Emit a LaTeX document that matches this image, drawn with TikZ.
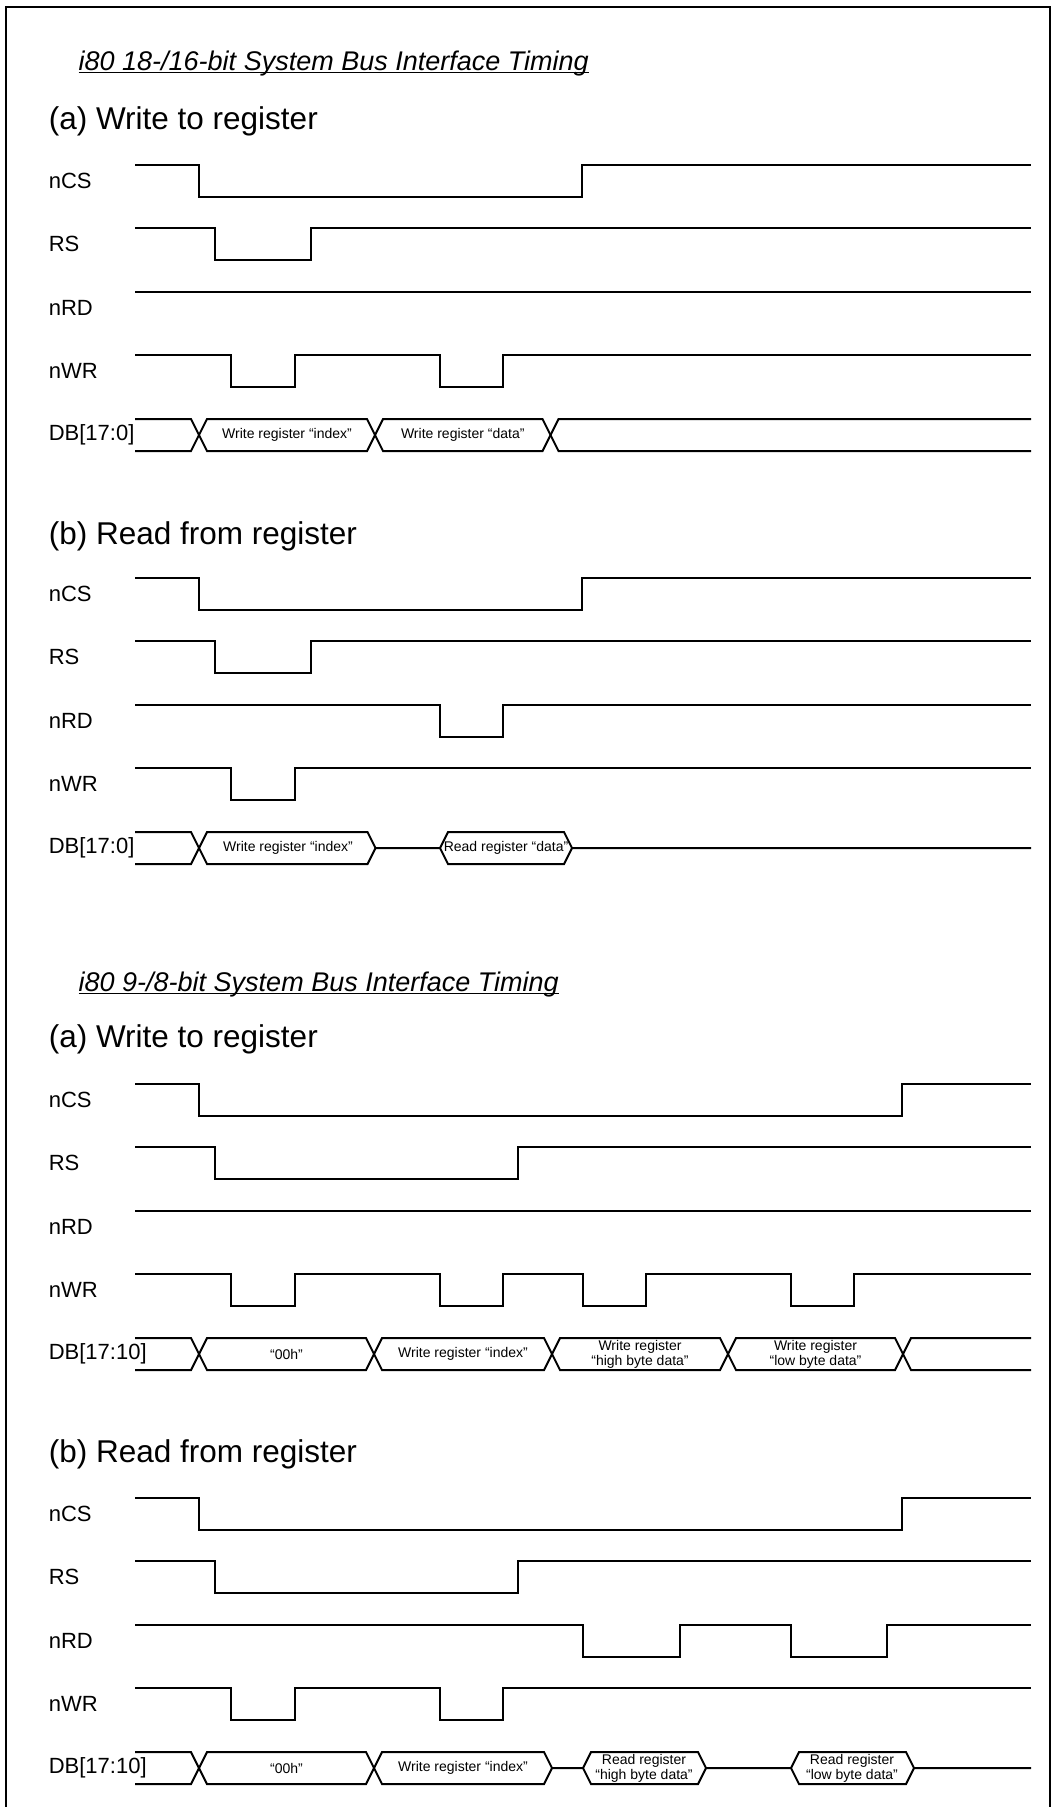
\documentclass[tikz,border=0pt]{standalone}
\usepackage{fontspec}
\setmainfont{Liberation Sans}

\begin{document}
\begin{tikzpicture}[
  x=1pt, y=-1pt,
  sig/.style={line width=2pt},
  bustitle/.style={font=\fontsize{27}{32}\selectfont\itshape, anchor=base west, inner sep=0pt},
  heading/.style={font=\fontsize{31.5}{38}\selectfont, anchor=base west, inner sep=0pt},
  signame/.style={font=\fontsize{22}{26}\selectfont, anchor=west, inner sep=0pt},
  buslabel/.style={font=\fontsize{14}{15}\selectfont, align=center, inner sep=0pt}
]
\useasboundingbox (0,0) rectangle (1052,1807);
\draw[line width=2pt] (6,7) rectangle (1050,1830);

% 18-/16-bit
\node[bustitle] (title1) at (78.5,70) {i80 18-/16-bit System Bus Interface Timing};
\draw[line width=1.5pt] ([yshift=-2.5pt]title1.base west) -- ([yshift=-2.5pt]title1.base east);
\node[heading] (wr1) at (48.6,129) {(a) Write to register};

\begin{scope}[shift={(0,165)}]
\node[signame] (csA) at (48.6,16) {nCS};
\node[signame] (rsA) at (48.6,79) {RS};
\node[signame] (rdA) at (48.6,143) {nRD};
\node[signame] (wrA) at (48.6,206) {nWR};
\node[signame] (dbA) at (48.6,270) {DB[17:0]};
\draw[sig] (135,0) -| (199,32) -| (582,0) -- (1031,0);
\draw[sig] (135,63) -| (215,95) -| (311,63) -- (1031,63);
\draw[sig] (135,127) -- (1031,127);
\draw[sig] (135,190) -| (231,222) -| (295,190) -| (440,222) -| (503,190) -- (1031,190);
\draw[sig] (135,254) -- (191,254) -- (207,286) -- (367,286) -- (383,254) -- (542.5,254) -- (558.5,286) -- (1031,286);
\draw[sig] (135,286) -- (191,286) -- (207,254) -- (367,254) -- (383,286) -- (542.5,286) -- (558.5,254) -- (1031,254);
\node[buslabel] (idxA) at (287,270) {Write register “index”};
\node[buslabel] (datA) at (462.75,270) {Write register “data”};
\end{scope}

\node[heading] (rd1) at (48.6,544) {(b) Read from register};

\begin{scope}[shift={(0,578)}]
\node[signame] (csB) at (48.6,16) {nCS};
\node[signame] (rsB) at (48.6,79) {RS};
\node[signame] (rdB) at (48.6,143) {nRD};
\node[signame] (wrB) at (48.6,206) {nWR};
\node[signame] (dbB) at (48.6,270) {DB[17:0]};
\draw[sig] (135,0) -| (199,32) -| (582,0) -- (1031,0);
\draw[sig] (135,63) -| (215,95) -| (311,63) -- (1031,63);
\draw[sig] (135,127) -| (440,159) -| (503,127) -- (1031,127);
\draw[sig] (135,190) -| (231,222) -| (295,190) -- (1031,190);
\draw[sig] (135,254) -- (191,254) -- (207,286) -- (367.5,286) -- (375.5,270) -- (440,270) -- (448,254) -- (564,254) -- (572,270) -- (1031,270);
\draw[sig] (135,286) -- (191,286) -- (207,254) -- (367.5,254) -- (375.5,270);
\draw[sig] (440,270) -- (448,286) -- (564,286) -- (572,270);
\node[buslabel] (idxB) at (288,270) {Write register “index”};
\node[buslabel] (datB) at (506,270) {Read register “data”};
\end{scope}

% 9-/8-bit
\node[bustitle] (title2) at (78.5,991) {i80 9-/8-bit System Bus Interface Timing};
\draw[line width=1.5pt] ([yshift=-2.5pt]title2.base west) -- ([yshift=-2.5pt]title2.base east);
\node[heading] (wr2) at (48.6,1047) {(a) Write to register};

\begin{scope}[shift={(0,1084)}]
\node[signame] (csC) at (48.6,16) {nCS};
\node[signame] (rsC) at (48.6,79) {RS};
\node[signame] (rdC) at (48.6,143) {nRD};
\node[signame] (wrC) at (48.6,206) {nWR};
\node[signame] (dbC) at (48.6,270) {DB[17:10]};
\draw[sig] (135,0) -| (199,32) -| (902,0) -- (1031,0);
\draw[sig] (135,63) -| (215,95) -| (518,63) -- (1031,63);
\draw[sig] (135,127) -- (1031,127);
\draw[sig] (135,190) -| (231,222) -| (295,190) -| (440,222) -| (503,190) -| (583,222) -| (646,190) -| (791,222) -| (854,190) -- (1031,190);
\draw[sig] (135,254) -- (191,254) -- (207,286) -- (366,286) -- (382,254) -- (544,254) -- (560,286) -- (720,286) -- (736,254) -- (895,254) -- (911,286) -- (1031,286);
\draw[sig] (135,286) -- (191,286) -- (207,254) -- (366,254) -- (382,286) -- (544,286) -- (560,254) -- (720,254) -- (736,286) -- (895,286) -- (911,254) -- (1031,254);
\node[buslabel] (zeroC) at (286.5,270) {“00h”};
\node[buslabel] (idxC) at (463,270) {Write register “index”};
\node[buslabel] (hiC) at (640,270) {Write register\\“high byte data”};
\node[buslabel] (loC) at (815.5,270) {Write register\\“low byte data”};
\end{scope}

\node[heading] (rd2) at (48.6,1462) {(b) Read from register};

\begin{scope}[shift={(0,1498)}]
\node[signame] (csD) at (48.6,16) {nCS};
\node[signame] (rsD) at (48.6,79) {RS};
\node[signame] (rdD) at (48.6,143) {nRD};
\node[signame] (wrD) at (48.6,206) {nWR};
\node[signame] (dbD) at (48.6,270) {DB[17:10]};
\draw[sig] (135,0) -| (199,32) -| (902,0) -- (1031,0);
\draw[sig] (135,63) -| (215,95) -| (518,63) -- (1031,63);
\draw[sig] (135,127) -| (583,159) -| (680,127) -| (791,159) -| (887,127) -- (1031,127);
\draw[sig] (135,190) -| (231,222) -| (295,190) -| (440,222) -| (503,190) -- (1031,190);
\draw[sig] (135,254) -- (191,254) -- (207,286) -- (366,286) -- (382,254) -- (544,254) -- (552,270) -- (583,270) -- (591,254) -- (698,254) -- (706,270) -- (791,270) -- (799,254) -- (906,254) -- (914,270) -- (1031,270);
\draw[sig] (135,286) -- (191,286) -- (207,254) -- (366,254) -- (382,286) -- (544,286) -- (552,270);
\draw[sig] (583,270) -- (591,286) -- (698,286) -- (706,270);
\draw[sig] (791,270) -- (799,286) -- (906,286) -- (914,270);
\node[buslabel] (zeroD) at (286.5,270) {“00h”};
\node[buslabel] (idxD) at (463,270) {Write register “index”};
\node[buslabel] (hiD) at (644,270) {Read register\\“high byte data”};
\node[buslabel] (loD) at (852,270) {Read register\\“low byte data”};
\end{scope}
\end{tikzpicture}
\end{document}
